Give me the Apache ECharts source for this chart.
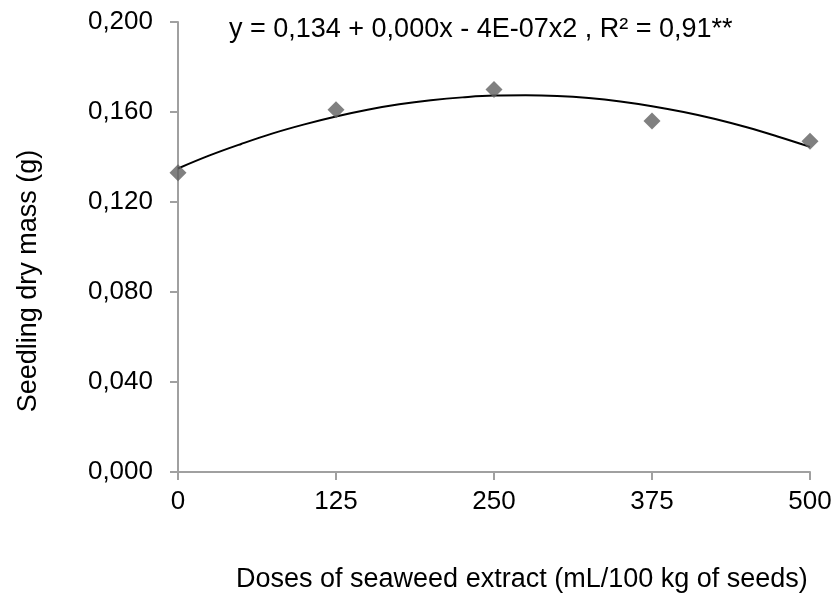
<!DOCTYPE html>
<html>
<head>
<meta charset="utf-8">
<script src="https://cdn.jsdelivr.net/npm/echarts@6/dist/echarts.min.js"></script>
<style>
    html, body { margin: 0; padding: 0; background: #fff; }
    #chart { width: 835px; height: 598px; }
</style>
</head>
<body>
<div id="chart"></div>
<script>
    // observed doses and means
    var doses = [0, 125, 250, 375, 500];
    var dryMass = [0.133, 0.161, 0.170, 0.156, 0.147];
    // fitted quadratic trendline
    var trendX = [0, 25, 50, 75, 100, 125, 150, 175, 200, 225, 250, 275, 300, 325, 350, 375, 400, 425, 450, 475, 500];
    var trendY = [0.1349, 0.1407, 0.1458, 0.1505, 0.1545, 0.1580, 0.1610, 0.1634, 0.1652, 0.1665, 0.1673, 0.1674,
                  0.1671, 0.1662, 0.1647, 0.1626, 0.1600, 0.1569, 0.1532, 0.1490, 0.1445];
    var xTicks = [0, 125, 250, 375, 500];
    var yTicks = [0, 0.04, 0.08, 0.12, 0.16, 0.2];

    (function(){
        var myChart = echarts.init(document.getElementById('chart'));
        var font = '"Liberation Sans", Arial, sans-serif';
        var axisColor = '#a0a0a0';

        var points = doses.map(function(d, i){ return [d, dryMass[i]]; });
        var trend = trendX.map(function(d, i){ return [d, trendY[i]]; });

        var option = {
            backgroundColor: '#fff',
            animation: false,
            grid: { left: 178, right: 25, top: 22, bottom: 126 },
            xAxis: {
                type: 'value',
                min: xTicks[0],
                max: xTicks[xTicks.length - 1],
                interval: 125,
                splitLine: { show: false },
                axisLine: { lineStyle: { color: axisColor, width: 2 } },
                axisTick: { show: true, length: 8, lineStyle: { color: axisColor, width: 2 } },
                axisLabel: { color: '#000', fontSize: 26, fontFamily: font, margin: 17 }
            },
            yAxis: {
                type: 'value',
                min: yTicks[0],
                max: yTicks[yTicks.length - 1],
                interval: 0.04,
                splitLine: { show: false },
                axisLine: { show: true, lineStyle: { color: axisColor, width: 2 } },
                axisTick: { show: true, length: 8, lineStyle: { color: axisColor, width: 2 } },
                axisLabel: {
                    color: '#000', fontSize: 26, fontFamily: font, margin: 25,
                    formatter: function(v){ return v.toFixed(3).replace('.', ','); }
                }
            },
            graphic: [
                {
                    type: 'text', left: 229, top: 16,
                    style: { text: 'y = 0,134 + 0,000x - 4E-07x2 , R² = 0,91**', fill: '#000', font: '27px ' + font }
                },
                {
                    type: 'text', left: 236, top: 566,
                    style: { text: 'Doses of seaweed extract (mL/100 kg of seeds)', fill: '#000', font: '27px ' + font }
                },
                {
                    type: 'text', x: 29, y: 281, rotation: Math.PI / 2,
                    style: { text: 'Seedling dry mass (g)', fill: '#000', font: '27px ' + font, align: 'center', verticalAlign: 'middle' }
                }
            ],
            series: [
                {
                    name: 'trend',
                    type: 'line',
                    data: trend,
                    smooth: 0.4,
                    showSymbol: false,
                    lineStyle: { color: '#000', width: 2 },
                    z: 2
                },
                {
                    name: 'dry mass',
                    type: 'scatter',
                    data: points,
                    symbol: 'diamond',
                    symbolSize: [17, 17],
                    itemStyle: { color: '#606060' },
                    z: 3
                }
            ]
        };

        myChart.setOption(option);
    })();
</script>
</body>
</html>
